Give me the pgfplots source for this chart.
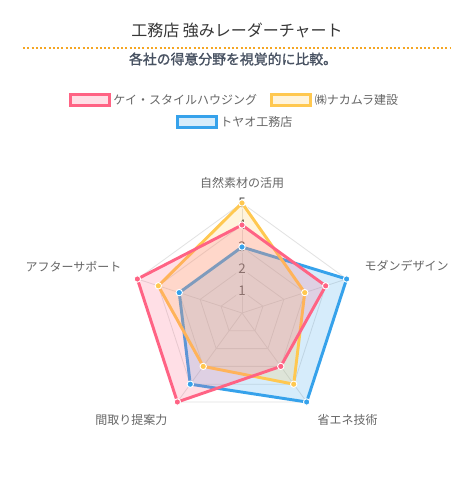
\documentclass[border=0pt]{standalone}
\usepackage{pgfplots}
\pgfplotsset{compat=1.18}
\usepgfplotslibrary{polar}
\usepackage{fontspec}
\setmainfont{Noto Sans CJK JP}
\newfontfamily\jpsemi[FakeBold=1.4]{Noto Sans CJK JP}

\definecolor{pinkc}{RGB}{255,99,132}
\definecolor{yelc}{RGB}{255,200,80}
\definecolor{bluec}{RGB}{54,162,235}
\definecolor{gridc}{RGB}{226,226,226}
\definecolor{labc}{RGB}{102,102,102}
\definecolor{tickc}{RGB}{80,80,80}
\definecolor{titlec}{RGB}{55,55,55}
\definecolor{subc}{RGB}{72,82,98}
\definecolor{dotc}{RGB}{245,166,35}

\pgfplotsset{
  radar/.style={draw=#1, fill=#1, line width=2.2pt, line join=round, fill opacity=0.2,
    mark=*, mark size=2.4pt, mark options={fill=#1, fill opacity=1, draw=white, line width=0.7pt}},
  legbox/.style={draw=#1, fill=#1, legend image code/.code={
    \draw[line width=2.2pt, fill opacity=0.2] (0pt,-4.2pt) rectangle (29pt,4.2pt);}},
  gridline/.style={draw=gridc, line width=0.6pt, mark=none, forget plot},
  radarframe/.style={hide axis, clip=false, x=16.5pt, y=16.5pt,
    xmin=-5.5, xmax=5.5, ymin=-5.5, ymax=5.5,
    at={(181.5pt,-234.75pt)}, anchor=center, data cs=polar,
    legend style={draw=none, fill=none, anchor=center, text=labc,
      font=\fontsize{9}{11}\selectfont, legend columns=2,
      /tikz/every even column/.append style={column sep=8pt}},
    legend cell align=left},
}

\begin{document}
\begin{tikzpicture}
\fill[white] (0,0) rectangle (355.5pt,-370.5pt);
\begin{scope}[x=0.75pt, y=-0.75pt]
  \node[font=\fontsize{12}{14}\selectfont, text=titlec] at (237,30) {工務店 強みレーダーチャート};
  \draw[dotc, line width=1.5pt, dash pattern=on 1.5pt off 1.7pt] (23,48) -- (451,48);
  \node[font=\jpsemi\fontsize{10.4}{12}\selectfont, text=subc] at (233,59) {各社の得意分野を視覚的に比較。};
  \begin{scope}[font=\fontsize{9}{11}\selectfont, text=labc]
    \node at (242,183) {自然素材の活用};
    \node[anchor=west] at (360,266) {モダンデザイン};
    \node[anchor=west] at (313,420) {省エネ技術};
    \node[anchor=east] at (172,420) {間取り提案力};
    \node[anchor=east] at (126,267) {アフターサポート};
  \end{scope}
\end{scope}

% grid
\begin{axis}[radarframe]
  \pgfplotsinvokeforeach{1,2,3,4,5}{
    \addplot[gridline] coordinates {(90,#1) (18,#1) (-54,#1) (-126,#1) (162,#1) (90,#1)};
  }
  \addplot[gridline] coordinates {(90,0) (90,5)};
  \addplot[gridline] coordinates {(18,0) (18,5)};
  \addplot[gridline] coordinates {(-54,0) (-54,5)};
  \addplot[gridline] coordinates {(-126,0) (-126,5)};
  \addplot[gridline] coordinates {(162,0) (162,5)};
\end{axis}

% tick labels with translucent backdrop
\begin{scope}[x=0.75pt, y=-0.75pt, font=\fontsize{10}{12}\selectfont, text=tickc]
  \begin{scope}[every node/.style={fill=white, fill opacity=0.75, text opacity=1, inner xsep=2pt, inner ysep=0.5pt}]
    \node at (242,291) {1};
    \node at (242,269) {2};
    \node at (242,247) {3};
    \node at (242,225) {4};
    \node at (242,203) {5};
  \end{scope}
\end{scope}

% data, order: 自然素材, モダン, 省エネ, 間取り, アフター
\begin{axis}[radarframe, legend style={at={(0.471,1.38)}}]
  \addlegendimage{legbox=pinkc}
  \addlegendentry{ケイ・スタイルハウジング}
  \addlegendimage{legbox=yelc}
  \addlegendentry{㈱ナカムラ建設}
  \addplot[radar=bluec, forget plot] coordinates {(90,3) (18,5) (-54,5) (-126,4) (162,3)} -- cycle;
  \addplot[radar=yelc, forget plot] coordinates {(90,5) (18,3) (-54,4) (-126,3) (162,4)} -- cycle;
  \addplot[radar=pinkc, forget plot] coordinates {(90,4) (18,4) (-54,3) (-126,5) (162,5)} -- cycle;
\end{axis}

\begin{axis}[radarframe, legend style={at={(0.473,1.289)}}]
  \addlegendimage{legbox=bluec}
  \addlegendentry{トヤオ工務店}
\end{axis}
\end{tikzpicture}
\end{document}
